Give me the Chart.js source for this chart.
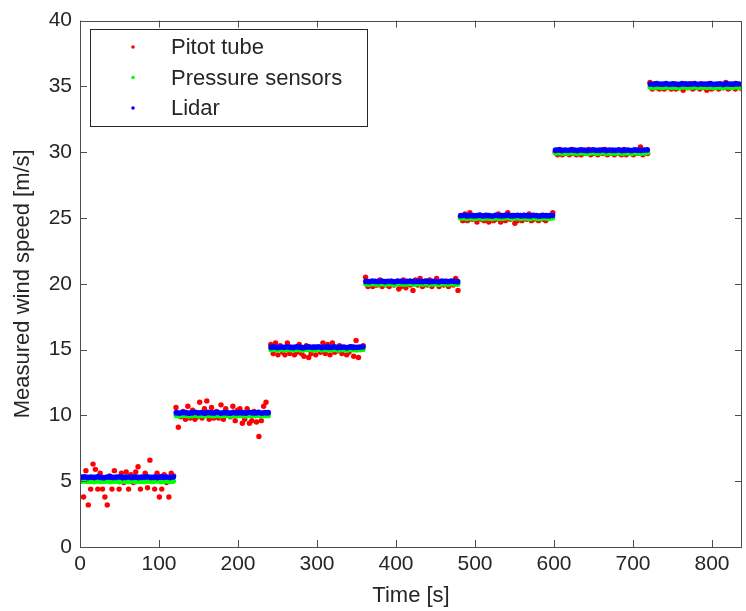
<!DOCTYPE html>
<html>
<head>
<meta charset="utf-8">
<script src="https://cdn.jsdelivr.net/npm/chart.js@4/dist/chart.umd.min.js"></script>
<style>
  html, body { margin: 0; padding: 0; background: #fff; }
  #wrap { width: 746px; height: 611px; }
</style>
</head>
<body>
<div id="wrap"><canvas id="c" width="746" height="611"></canvas></div>
<script>
// Step levels: each one lasts 120 s
const segStarts = [0, 120, 240, 360, 480, 600, 720];
const xTickValues = [0, 100, 200, 300, 400, 500, 600, 700, 800];
const yTickValues = [0, 5, 10, 15, 20, 25, 30, 35, 40];

// Pitot tube, one sample every 3 s
const pitot05 = [5.1,3.8,5.8,3.2,4.4,6.3,5.9,4.4,5.6,4.4,3.8,3.2,5.4,4.4,5.8,5.0,4.4,5.6,4.9,5.7,4.4,5.5,4.9,5.7,6.1,4.4,5.0,5.6,4.5,6.6,5.0,4.4,5.6,3.8,4.4,5.5,4.9,3.8,5.6,5.4];
const pitot10 = [10.6,9.1,9.9,10.3,9.7,10.7,9.8,10.4,9.7,9.9,11.0,9.8,10.5,11.1,9.7,10.6,9.8,10.3,9.8,10.8,9.7,10.5,10.0,9.9,10.7,9.6,10.4,10.5,9.4,9.7,10.5,9.4,9.6,10.3,9.5,8.4,9.6,10.7,11.0,10.2];
const pitot15 = [15.4,14.7,15.5,14.6,15.3,14.8,14.6,15.5,14.7,15.1,14.6,14.8,15.4,14.7,14.5,15.3,14.4,14.7,15.2,14.6,15.0,14.8,15.5,14.7,15.4,14.6,15.5,14.8,14.9,15.3,14.7,15.0,14.6,14.8,15.2,14.5,15.7,14.4,15.0,15.3];
const pitot20 = [20.5,19.8,20.1,19.8,19.9,19.9,20.3,19.8,20.0,19.9,19.8,20.2,19.9,20.1,19.6,19.8,20.3,19.7,20.0,19.9,19.5,20.3,19.9,20.4,19.8,20.2,19.9,20.3,19.8,20.1,20.4,19.8,20.1,19.9,20.2,19.8,20.0,19.9,20.4,19.5];
const pitot25 = [25.1,24.8,25.3,24.8,25.4,24.9,25.1,24.7,25.0,24.9,24.8,25.2,24.7,25.0,24.8,24.9,25.3,24.7,25.0,24.8,25.4,24.9,25.2,24.6,24.8,25.1,24.8,25.2,24.9,25.3,24.8,24.9,25.1,24.8,25.2,24.9,24.8,25.0,25.2,25.4];
const pitot30 = [30.0,29.8,30.2,29.8,30.1,29.9,29.8,30.2,29.9,29.8,30.1,29.8,30.0,29.9,30.2,29.8,29.9,30.1,29.8,30.0,29.9,30.2,29.8,29.9,30.1,29.8,30.0,29.9,29.8,30.2,29.8,30.1,29.9,29.8,30.0,29.9,30.4,29.8,30.0,29.9];
const pitot35 = [35.3,34.8,35.2,34.9,34.8,35.1,34.8,35.0,34.9,34.8,35.2,34.8,34.9,35.1,34.7,35.0,34.9,35.2,34.8,34.9,35.1,34.8,35.0,34.9,34.7,35.2,34.8,34.9,35.1,34.8,35.0,34.9,35.3,34.8,34.9,35.1,34.8,35.0,34.9,34.8];

// Pressure sensors, one sample every 4 s
const press05 = [5.00,5.02,4.98,5.01,4.97,5.03,5.00,4.99,5.02,4.98,5.01,5.00,4.97,5.02,5.00,4.99,5.03,4.98,5.01,5.00,4.98,5.02,4.99,5.01,5.03,4.98,5.00,5.02,4.99,5.01];
const press10 = [10.00,9.98,10.02,10.01,9.97,10.00,10.03,9.99,10.01,9.98,10.02,10.00,9.99,10.03,9.98,10.01,10.00,9.97,10.02,9.99,10.01,10.00,9.98,10.03,10.00,9.99,10.02,9.98,10.01,10.00];
const press15 = [15.00,15.02,14.98,15.01,14.99,15.03,15.00,14.98,15.02,15.00,14.97,15.01,15.02,14.99,15.00,15.03,14.98,15.01,15.00,14.99,15.02,14.98,15.00,15.01,14.97,15.02,15.00,14.99,15.01,15.03];
const press20 = [20.00,19.98,20.02,20.00,19.99,20.03,19.98,20.01,20.00,19.97,20.02,20.01,19.99,20.00,20.03,19.98,20.01,20.00,19.99,20.02,19.98,20.00,20.01,19.97,20.02,20.00,19.99,20.03,20.00,19.98];
const press25 = [25.00,25.02,24.98,25.01,24.99,25.00,25.03,24.98,25.01,25.00,24.97,25.02,25.00,24.99,25.01,25.03,24.98,25.00,25.02,24.99,25.01,25.00,24.98,25.02,25.00,24.97,25.01,25.00,24.99,25.02];
const press30 = [29.95,29.97,29.93,29.96,29.94,29.98,29.95,29.93,29.97,29.95,29.92,29.96,29.97,29.94,29.95,29.98,29.93,29.96,29.95,29.94,29.97,29.93,29.95,29.96,29.92,29.97,29.95,29.94,29.96,29.98];
const press35 = [34.95,34.93,34.97,34.95,34.94,34.98,34.93,34.96,34.95,34.92,34.97,34.96,34.94,34.95,34.98,34.93,34.96,34.95,34.94,34.97,34.93,34.95,34.96,34.92,34.97,34.95,34.94,34.98,34.95,34.93];

// Lidar, one sample every 4 s
const lidar05 = [5.30,5.32,5.28,5.31,5.29,5.33,5.30,5.27,5.31,5.32,5.29,5.30,5.33,5.28,5.30,5.31,5.29,5.32,5.28,5.30,5.31,5.33,5.29,5.30,5.28,5.32,5.30,5.31,5.29,5.33];
const lidar10 = [10.20,10.18,10.22,10.21,10.17,10.20,10.23,10.19,10.21,10.18,10.22,10.20,10.19,10.23,10.18,10.21,10.20,10.17,10.22,10.19,10.21,10.20,10.18,10.23,10.20,10.19,10.22,10.18,10.21,10.20];
const lidar15 = [15.18,15.20,15.16,15.19,15.17,15.21,15.18,15.16,15.20,15.18,15.15,15.19,15.20,15.17,15.18,15.21,15.16,15.19,15.18,15.17,15.20,15.16,15.18,15.19,15.15,15.20,15.18,15.17,15.19,15.21];
const lidar20 = [20.18,20.16,20.20,20.18,20.17,20.21,20.16,20.19,20.18,20.15,20.20,20.19,20.17,20.18,20.21,20.16,20.19,20.18,20.17,20.20,20.16,20.18,20.19,20.15,20.20,20.18,20.17,20.21,20.18,20.16];
const lidar25 = [25.18,25.20,25.16,25.19,25.17,25.18,25.21,25.16,25.19,25.18,25.15,25.20,25.18,25.17,25.19,25.21,25.16,25.18,25.20,25.17,25.19,25.18,25.16,25.20,25.18,25.15,25.19,25.18,25.17,25.20];
const lidar30 = [30.15,30.17,30.13,30.16,30.14,30.18,30.15,30.13,30.17,30.15,30.12,30.16,30.17,30.14,30.15,30.18,30.13,30.16,30.15,30.14,30.17,30.13,30.15,30.16,30.12,30.17,30.15,30.14,30.16,30.18];
const lidar35 = [35.18,35.16,35.20,35.18,35.17,35.21,35.16,35.19,35.18,35.15,35.20,35.19,35.17,35.18,35.21,35.16,35.19,35.18,35.17,35.20,35.16,35.18,35.19,35.15,35.20,35.18,35.17,35.21,35.18,35.16];

const FONT = "'Liberation Sans', Arial, sans-serif";
const INK = '#262626';
const AXIS = '#4d4d4d';

// turn per-step sample lists into {x,y} points
function toPoints(step, segs) {
    const out = [];
    segs.forEach((vals, k) => {
        vals.forEach((v, i) => out.push({ x: segStarts[k] + step / 2 + step * i, y: v }));
    });
    return out;
}

const pitotPts = toPoints(3, [pitot05, pitot10, pitot15, pitot20, pitot25, pitot30, pitot35]);
const pressPts = toPoints(4, [press05, press10, press15, press20, press25, press30, press35]);
const lidarPts = toPoints(4, [lidar05, lidar10, lidar15, lidar20, lidar25, lidar30, lidar35]);

// box around plot, inward ticks, legend inside the axes (matlab look)
const matlabFrame = {
    id: 'matlabFrame',
    afterDatasetsDraw(chart) {
        const { ctx, chartArea: a, scales: { x, y } } = chart;
        const tl = 7;
        ctx.save();
        ctx.strokeStyle = AXIS;
        ctx.lineWidth = 1;
        ctx.beginPath();
        xTickValues.forEach(v => {
            const px = Math.round(x.getPixelForValue(v)) + 0.5;
            ctx.moveTo(px, a.bottom); ctx.lineTo(px, a.bottom - tl);
            ctx.moveTo(px, a.top); ctx.lineTo(px, a.top + tl);
        });
        yTickValues.forEach(v => {
            const py = Math.round(y.getPixelForValue(v)) + 0.5;
            ctx.moveTo(a.left, py); ctx.lineTo(a.left + tl, py);
            ctx.moveTo(a.right, py); ctx.lineTo(a.right - tl, py);
        });
        ctx.stroke();
        ctx.strokeRect(Math.round(a.left) + 0.5, Math.round(a.top) + 0.5,
            Math.round(a.right - a.left) - 1, Math.round(a.bottom - a.top));

        // legend
        const bx = 90.5, by = 29.5, bw = 277, bh = 97;
        ctx.fillStyle = '#fff';
        ctx.fillRect(bx, by, bw, bh);
        ctx.strokeStyle = INK;
        ctx.strokeRect(bx, by, bw, bh);
        ctx.font = '22px ' + FONT;
        ctx.textBaseline = 'middle';
        ctx.textAlign = 'left';
        chart.data.datasets.forEach((ds, i) => {
            const ry = 47 + i * 30.5;
            ctx.fillStyle = ds.backgroundColor;
            ctx.beginPath();
            ctx.arc(133, ry, 1.8, 0, Math.PI * 2);
            ctx.fill();
            ctx.fillStyle = INK;
            ctx.fillText(ds.label, 171, ry + 1);
        });
        ctx.restore();
    }
};

new Chart(document.getElementById('c'), {
    type: 'scatter',
    data: {
        datasets: [
            { label: 'Pitot tube', data: pitotPts, backgroundColor: '#ff0000', pointRadius: 2.7, borderWidth: 0, order: 3 },
            { label: 'Pressure sensors', data: pressPts, backgroundColor: '#00ff00', pointRadius: 2.9, borderWidth: 0, order: 2 },
            { label: 'Lidar', data: lidarPts, backgroundColor: '#0000ff', pointRadius: 2.9, borderWidth: 0, order: 1 }
        ]
    },
    options: {
        responsive: false,
        animation: false,
        layout: { padding: { top: 18, right: 1, left: 0, bottom: 0 } },
        plugins: {
            legend: { display: false },
            tooltip: { enabled: false }
        },
        scales: {
            x: {
                type: 'linear',
                min: 0,
                max: 838,
                afterBuildTicks: s => { s.ticks = xTickValues.map(v => ({ value: v })); },
                afterFit: s => { s.height = 64; },
                grid: { display: false, drawTicks: false },
                border: { display: false },
                ticks: { color: INK, font: { family: FONT, size: 21 }, padding: 5, maxRotation: 0 },
                title: { display: true, text: 'Time [s]', color: INK, font: { family: FONT, size: 22 }, padding: { top: 0, bottom: 2 } }
            },
            y: {
                type: 'linear',
                min: 0,
                max: 40,
                afterBuildTicks: s => { s.ticks = yTickValues.map(v => ({ value: v })); },
                afterFit: s => { s.width = 80; },
                grid: { display: false, drawTicks: false },
                border: { display: false },
                ticks: { color: INK, font: { family: FONT, size: 21 }, padding: 8 },
                title: { display: true, text: 'Measured wind speed [m/s]', color: INK, font: { family: FONT, size: 22 }, padding: { top: 10, bottom: 0 } }
            }
        }
    },
    plugins: [matlabFrame]
});
</script>
</body>
</html>
